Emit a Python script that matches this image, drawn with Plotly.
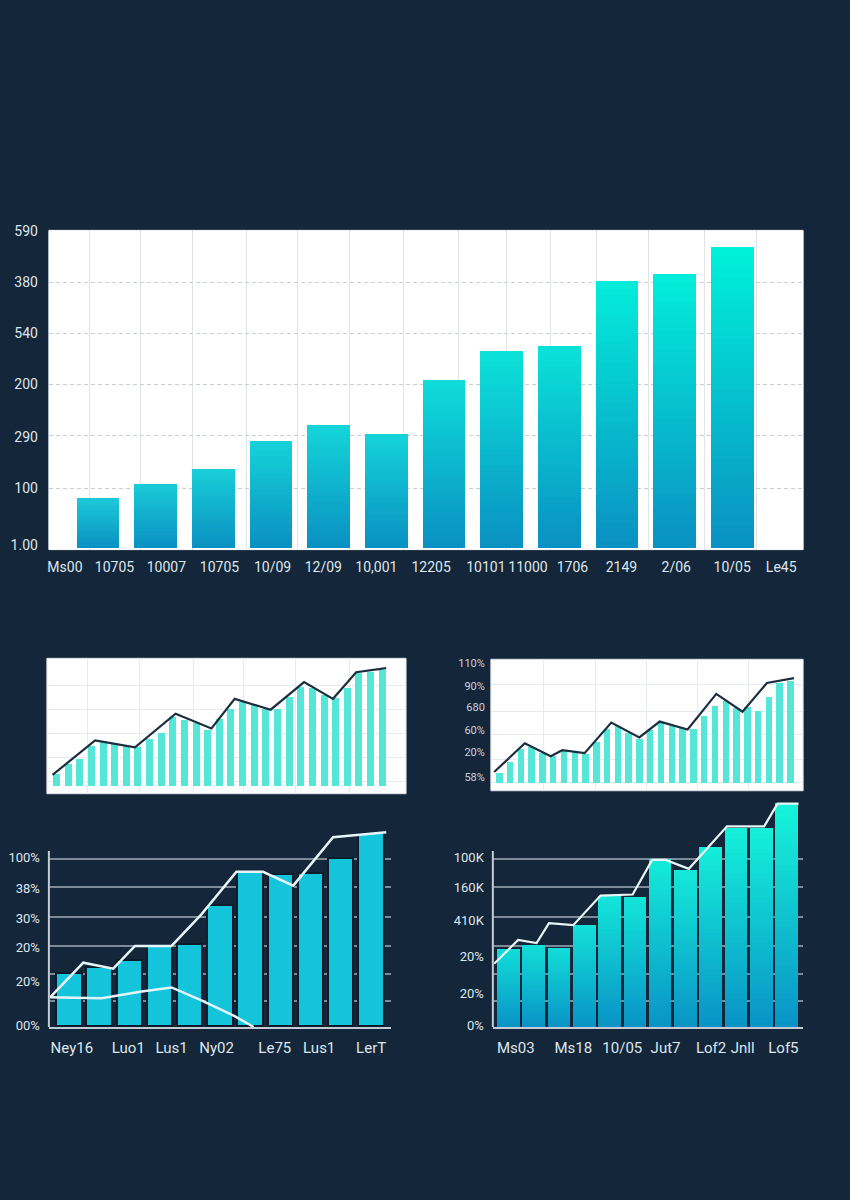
import plotly.graph_objects as go

BG = "#13263a"
FONT = "Roboto, Arial"
TXT = "#dfe6ec"

# ---------------- data ----------------
# Panel 1 (large gradient bar chart)
p1_values = [95, 123, 152, 205, 237, 219, 324, 380, 389, 515, 529, 582]
p1_xlabels = ["Ms00", "10705", "10007", "10705", "10/09", "12/09", "10,001", "12205",
              "10101", "11000", "1706", "2149", "2/06", "10/05", "Le45"]
p1_ylabels = ["1.00", "100", "290", "200", "540", "380", "590"]

# Panel 2 (small white chart, left)
p2_values = [13, 23, 28, 41, 45, 43, 41, 40, 48, 54, 70, 67, 64, 57, 68, 78, 85, 82, 78,
             78, 91, 101, 100, 93, 90, 100, 115, 116, 118]
p2_line_x = [-0.33, 3.33, 6.76, 10.25, 13.33, 15.33, 18.42, 21.29, 23.78, 25.77, 28.35]
p2_line_y = [12, 47, 40, 74, 59, 89, 78, 106, 89, 116, 120]

# Panel 3 (small white chart, right)
p3_values = [10, 21, 34, 36, 30, 27, 32, 31, 29, 41, 54, 57, 50, 44, 53, 60, 57, 55, 54,
             67, 77, 83, 75, 76, 72, 87, 101, 103]
p3_line_x = [-0.46, 2.38, 4.78, 5.86, 7.93, 10.4, 13.0, 14.89, 17.48, 20.14, 22.57, 24.83, 27.35]
p3_line_y = [11, 40, 27, 33, 30, 61, 46, 62, 54, 90, 72, 101, 106]
p3_ylabels = ["58%", "20%", "60%", "680", "90%", "110%"]

# Panel 4 (dark chart, left)
p4_values = [54, 60, 67, 81, 83, 123, 156, 154, 155, 170, 196]
p4_lineA_x = [-0.65, 0.45, 1.44, 2.16, 3.37, 4.36, 5.52, 6.4, 7.4, 8.72, 10.48]
p4_lineA_y = [30, 65, 59, 82, 82, 114, 157, 157, 143, 192, 197]
p4_lineB_x = [-0.65, 1.06, 2.38, 3.37, 4.36, 5.46, 6.09]
p4_lineB_y = [30, 29, 36, 40, 27, 11, 0]
p4_xlabels = ["Ney16", "Luo1", "Lus1", "Ny02", "Le75", "Lus1", "LerT"]
p4_ylabels = ["00%", "20%", "20%", "30%", "38%", "100%"]

# Panel 5 (dark chart, right)
p5_values = [78, 82, 79, 103, 132, 131, 169, 158, 181, 201, 201, 226]
p5_line_x = [-0.58, 0.37, 1.1, 1.59, 2.55, 3.63, 4.9, 5.67, 6.2, 7.12, 8.63, 10.1, 10.63, 11.46]
p5_line_y = [64, 88, 85, 105, 103, 133, 134, 169, 169, 160, 203, 203, 226, 226]
p5_xlabels = ["Ms03", "Ms18", "10/05", "Jut7", "Lof2", "Jnll", "Lof5"]
p5_ylabels = ["0%", "20%", "20%", "410K", "160K", "100K"]


# ---------------- helpers ----------------
def dom_x(a, b):
    return [a / 850, b / 850]


def dom_y(top, bottom):
    return [1 - bottom / 1200, 1 - top / 1200]


def hex2rgb(h):
    h = h.lstrip("#")
    return tuple(int(h[i:i + 2], 16) for i in (0, 2, 4))


def mix(c1, c2, t):
    a, b = hex2rgb(c1), hex2rgb(c2)
    return "rgb(%d,%d,%d)" % tuple(round(a[i] + (b[i] - a[i]) * t) for i in range(3))


def mixhex(c1, c2, t):
    a, b = hex2rgb(c1), hex2rgb(c2)
    return "#%02x%02x%02x" % tuple(round(a[i] + (b[i] - a[i]) * t) for i in range(3))


def gradient_bars(values, xa, ya, width, bottom, top_low, top_high, nb=40):
    """Bars drawn as stacked slices, each bar shaded from bottom to its own top colour."""
    vmin, vmax = min(values), max(values)
    xs = list(range(len(values)))
    tops = [mixhex(top_low, top_high, (v - vmin) / (vmax - vmin)) for v in values]
    out = []
    for k in range(nb):
        t = (k + 0.5) / nb
        cols = [mix(bottom, tp, t) for tp in tops]
        out.append(go.Bar(x=xs, y=[v / nb for v in values], width=width,
                          marker=dict(color=cols, line=dict(color=cols, width=1)),
                          xaxis=xa, yaxis=ya, hoverinfo="skip", showlegend=False))
    return out


fig = go.Figure()

# Panel 1
for tr in gradient_bars(p1_values, "x", "y", 0.72, "#0a90c2", "#1cc9d8", "#00f2da"):
    fig.add_trace(tr)

# Panel 2
fig.add_trace(go.Bar(x=list(range(len(p2_values))), y=p2_values, width=0.6,
                     marker=dict(color="#55e6d8", line=dict(width=0)),
                     xaxis="x2", yaxis="y2", showlegend=False))
fig.add_trace(go.Scatter(x=p2_line_x, y=p2_line_y, mode="lines",
                         line=dict(color="#1c2f40", width=2.2),
                         xaxis="x2", yaxis="y2", showlegend=False))

# Panel 3
fig.add_trace(go.Bar(x=list(range(len(p3_values))), y=p3_values, width=0.6,
                     marker=dict(color="#55e6d8", line=dict(width=0)),
                     xaxis="x3", yaxis="y3", showlegend=False))
fig.add_trace(go.Scatter(x=p3_line_x, y=p3_line_y, mode="lines",
                         line=dict(color="#1c2f40", width=2.2),
                         xaxis="x3", yaxis="y3", showlegend=False))

# Panel 4
fig.add_trace(go.Bar(x=list(range(len(p4_values))), y=p4_values, width=0.84,
                     marker=dict(color="#13c4db", line=dict(color="#0d1c2c", width=1.5)),
                     xaxis="x4", yaxis="y4", showlegend=False))
fig.add_trace(go.Scatter(x=p4_lineB_x, y=p4_lineB_y, mode="lines",
                         line=dict(color="#e4f3f7", width=2.5),
                         xaxis="x4", yaxis="y4", showlegend=False))
fig.add_trace(go.Scatter(x=p4_lineA_x, y=p4_lineA_y, mode="lines",
                         line=dict(color="#e8f5f8", width=2.5),
                         xaxis="x4", yaxis="y4", showlegend=False))

# Panel 5
for tr in gradient_bars(p5_values, "x5", "y5", 0.85, "#0993c6", "#12dcd8", "#16f4da"):
    fig.add_trace(tr)
fig.add_trace(go.Scatter(x=p5_line_x, y=p5_line_y, mode="lines",
                         line=dict(color="#e8f5f8", width=2.2),
                         xaxis="x5", yaxis="y5", showlegend=False))

# ---------------- axes ----------------
P1_XTICKS = [-0.58, 0.28, 1.18, 2.10, 3.02, 3.90, 4.82, 5.77, 6.72, 7.45, 8.22, 9.07,
             10.02, 10.99, 11.84]
P1_XGRID = [(a + b) / 2 for a, b in zip(P1_XTICKS[:-1], P1_XTICKS[1:])]
P1_YTICKS = [7.6, 116.6, 216.1, 319.3, 416.8, 516.2, 615]
P1_YGRID = [116.4, 218, 317.4, 416.6, 516]

P3_YTICKS = [6, 31, 53, 77, 98, 121]
P3_YGRID = [0.7, 24, 49, 72.3, 99.3]

P4_XTICKS = [0.07, 1.94, 3.37, 4.86, 6.79, 8.26, 9.98]
P4_YTICKS = [1.7, 46, 80.3, 110.3, 140.3, 171.7]
P45_YGRID = [26.5, 53.2, 82.2, 111.6, 141.6, 170.2]
P45_AXIS_TOP = 178

P5_XTICKS = [0.28, 2.55, 4.49, 6.2, 8.0, 9.25, 10.86]
P5_YTICKS = [1.7, 34.3, 71.7, 107.7, 141, 171.7]

base = dict(zeroline=False, ticks="", showline=False, tickangle=0)

fig.update_layout(
    width=850, height=1200,
    margin=dict(l=0, r=0, t=0, b=0),
    paper_bgcolor=BG, plot_bgcolor="rgba(0,0,0,0)",
    barmode="stack", bargap=0, showlegend=False,
    font=dict(family=FONT, color=TXT),
    # panel 1
    xaxis=dict(base, domain=dom_x(47, 803), range=[-0.858, 12.22], anchor="y",
               tickmode="array", tickvals=P1_XTICKS, ticktext=p1_xlabels,
               showgrid=False, ticklabelstandoff=7, tickfont=dict(size=14, color=TXT),
               minor=dict(tickmode="array", tickvals=P1_XGRID, showgrid=True,
                          gridcolor="#e1e5e9", gridwidth=1, ticks="")),
    yaxis=dict(base, domain=dom_y(225, 548), range=[-2, 616], anchor="x",
               tickmode="array", tickvals=P1_YTICKS, ticktext=p1_ylabels,
               showgrid=False, ticklabelstandoff=10, tickfont=dict(size=14, color=TXT),
               minor=dict(tickmode="array", tickvals=P1_YGRID, showgrid=True,
                          gridcolor="#c8cfd6", gridwidth=1, griddash="4px,3px", ticks="")),
    # panel 2
    xaxis2=dict(base, domain=dom_x(45, 405), range=[-0.815, 30.06], anchor="y2",
                tickmode="array", tickvals=[2.70, 7.16, 11.79, 16.08, 20.54, 25.17],
                showticklabels=False, showgrid=True, gridcolor="#e7ebee", gridwidth=1.2),
    yaxis2=dict(base, domain=dom_y(658, 795), range=[-7, 130], anchor="x2",
                tickmode="array", tickvals=[5, 29.5, 54, 78.5, 103],
                showticklabels=False, showgrid=True, gridcolor="#e7ebee", gridwidth=1.2),
    # panel 3
    xaxis3=dict(base, domain=dom_x(490, 803), range=[-0.768, 28.19], anchor="y3",
                tickmode="array", tickvals=[4.11, 8.95, 13.65, 18.41, 23.13],
                showticklabels=False, showgrid=True, gridcolor="#e7ebee", gridwidth=1.2),
    yaxis3=dict(base, domain=dom_y(659, 792), range=[-8, 125], anchor="x3",
                tickmode="array", tickvals=P3_YTICKS, ticktext=p3_ylabels,
                showgrid=False, ticklabelstandoff=5, tickfont=dict(size=11, color="#c9d3dc"),
                minor=dict(tickmode="array", tickvals=P3_YGRID, showgrid=True,
                           gridcolor="#e7ebee", gridwidth=1.2, ticks="")),
    # panel 4 (plot area extends above the drawn axis line so tall bars are not cut)
    xaxis4=dict(base, domain=dom_x(47, 390), range=[-0.69, 10.64], anchor="y4",
                tickmode="array", tickvals=P4_XTICKS, ticktext=p4_xlabels,
                showgrid=False, showline=True, linecolor="#c3ccd5", linewidth=2,
                ticklabelstandoff=6, tickfont=dict(size=15, color=TXT)),
    yaxis4=dict(base, domain=dom_y(800, 1031), range=[0, 231], anchor="x4",
                tickmode="array", tickvals=P4_YTICKS, ticktext=p4_ylabels,
                showgrid=False, ticklabelstandoff=8, tickfont=dict(size=13, color=TXT),
                minor=dict(tickmode="array", tickvals=P45_YGRID, showgrid=True,
                           gridcolor="#7e8a97", gridwidth=1.5, ticks="")),
    # panel 5
    xaxis5=dict(base, domain=dom_x(492, 803), range=[-0.63, 11.64], anchor="y5",
                tickmode="array", tickvals=P5_XTICKS, ticktext=p5_xlabels,
                showgrid=False, showline=True, linecolor="#c3ccd5", linewidth=2,
                ticklabelstandoff=6, tickfont=dict(size=15, color=TXT)),
    yaxis5=dict(base, domain=dom_y(800, 1031), range=[0, 231], anchor="x5",
                tickmode="array", tickvals=P5_YTICKS, ticktext=p5_ylabels,
                showgrid=False, ticklabelstandoff=8, tickfont=dict(size=13, color=TXT),
                minor=dict(tickmode="array", tickvals=P45_YGRID, showgrid=True,
                           gridcolor="#7e8a97", gridwidth=1.5, ticks="")),
)

# white plot areas for the three light panels
for xr, yr, border in (("x", "y", None), ("x2", "y2", "#dde3e8"), ("x3", "y3", "#dde3e8")):
    fig.add_shape(type="rect", xref=xr + " domain", yref=yr + " domain",
                  x0=0, x1=1, y0=0, y1=1, fillcolor="white", layer="below",
                  line=dict(color=border or "white", width=1))

# vertical axis lines of the two dark panels (stop below the tallest bars)
for xr, yr in (("x4", "y4"), ("x5", "y5")):
    fig.add_shape(type="line", xref=xr + " domain", yref=yr, x0=0, x1=0,
                  y0=0, y1=P45_AXIS_TOP, line=dict(color="#c3ccd5", width=2), layer="above")

fig.write_html("out.html",
               config={"displayModeBar": False},
               post_script="document.body.style.margin='0';"
                           "document.body.style.background='%s';" % BG)
